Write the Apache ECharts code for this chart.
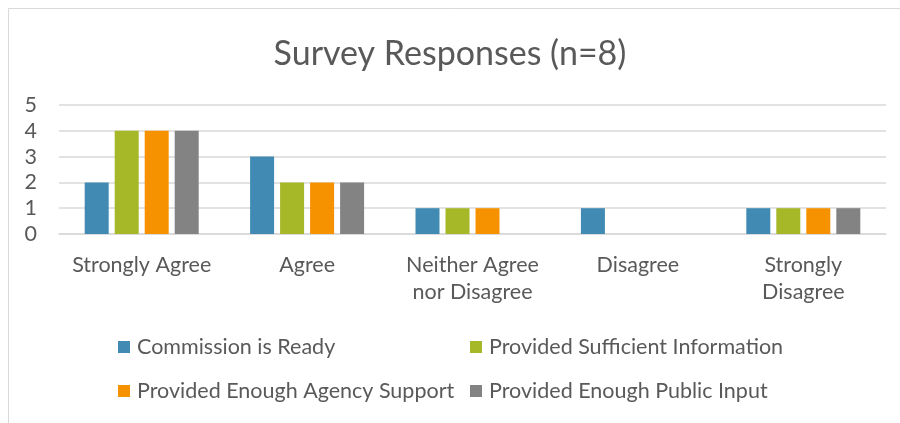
<!DOCTYPE html>
<html><head><meta charset="utf-8">
<script src="https://cdn.jsdelivr.net/npm/echarts@6/dist/echarts.min.js"></script>
<style>html,body{margin:0;padding:0;background:#fff}#c{width:900px;height:423px}</style>
</head><body><div id="c"></div>
<script>
const categories = ["Strongly Agree", "Agree", "Neither Agree\nnor Disagree", "Disagree", "Strongly\nDisagree"];
const seriesNames = ["Commission is Ready", "Provided Sufficient Information", "Provided Enough Agency Support", "Provided Enough Public Input"];
const commissionReady = [2, 3, 1, 1, 1];
const sufficientInfo = [4, 2, 1, 0, 1];
const agencySupport = [4, 2, 1, 0, 1];
const publicInput = [4, 2, 0, 0, 1];
const yTicks = [0, 1, 2, 3, 4, 5];
const colors = ["#418AB3", "#A6B727", "#F69200", "#838383"];
const values = [commissionReady, sufficientInfo, agencySupport, publicInput];
const FONT = "Lato";
const chart = echarts.init(document.getElementById('c'), null, {renderer: 'canvas'});
const legendPos = [[118, 336], [470, 336], [118, 380], [470, 380]];
chart.setOption({
  animation: false,
  textStyle: {fontFamily: FONT},
  title: {text: "Survey Responses (n=8)", left: 'center', top: 32,
    textStyle: {fontFamily: FONT, fontSize: 34, fontWeight: 'normal', color: '#595959'}},
  graphic: [{type: 'rect', shape: {x: 8.5, y: 8.5, width: 1000, height: 1000}, style: {fill: 'none', stroke: '#D9D9D9', lineWidth: 1}, silent: true}],
  grid: {left: 59, right: 14, top: 105, bottom: 189},
  legend: seriesNames.map((n, i) => ({
    data: [n], left: legendPos[i][0], top: legendPos[i][1], padding: 0, itemWidth: 12, itemHeight: 12, itemGap: 0,
    icon: 'rect', textStyle: {fontFamily: FONT, fontSize: 21.5, color: '#595959', padding: [0,0,0,2]}
  })),
  xAxis: {type: 'category', data: categories,
    axisLine: {show: true, lineStyle: {color: '#D9D9D9', width: 1.5}}, axisTick: {show: false},
    axisLabel: {fontFamily: FONT, fontSize: 21.5, color: '#595959', margin: 18, lineHeight: 27, interval: 0}},
  yAxis: {type: 'value', min: yTicks[0], max: yTicks[yTicks.length-1], interval: 1,
    axisLine: {show: false}, axisTick: {show: false},
    splitLine: {lineStyle: {color: '#D9D9D9', width: 1.5}},
    axisLabel: {fontFamily: FONT, fontSize: 21.5, color: '#595959', margin: 22}},
  series: seriesNames.map((n, i) => ({
    name: n, type: 'bar', data: values[i], barWidth: 24, barGap: '25%',
    itemStyle: {color: colors[i]}
  }))
});
</script></body></html>
